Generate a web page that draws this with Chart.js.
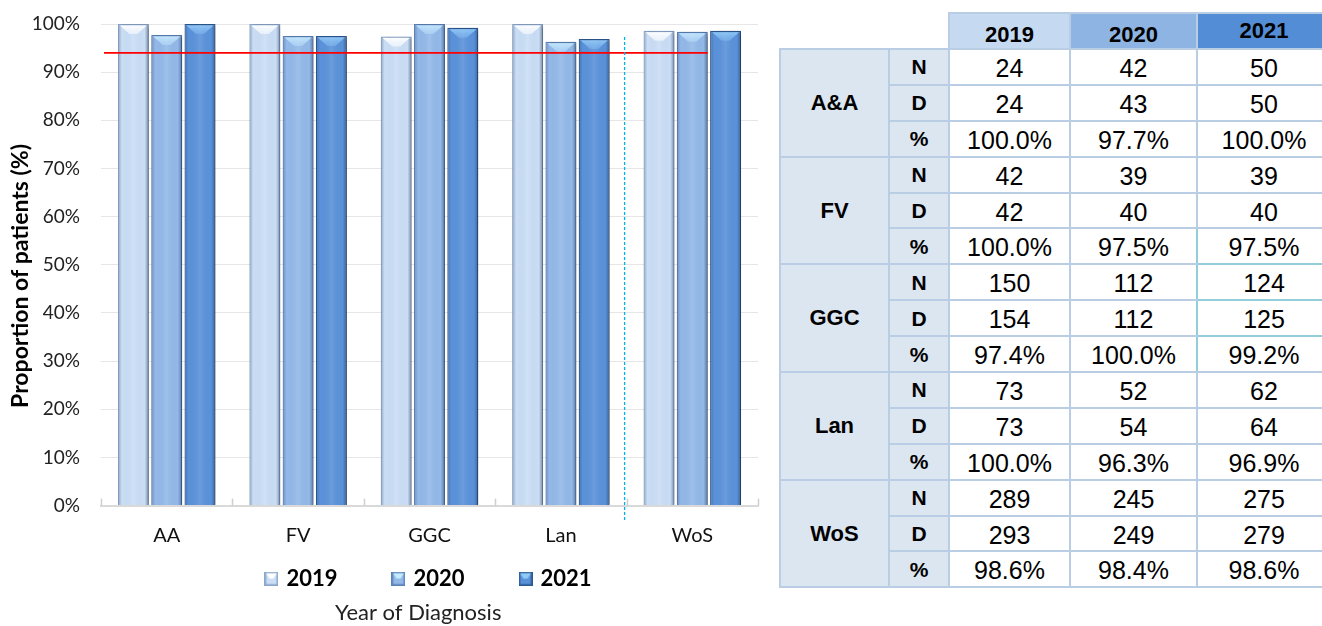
<!DOCTYPE html>
<html>
<head>
<meta charset="utf-8">
<title>Proportion of patients by board and year of diagnosis</title>
<script src="https://cdn.jsdelivr.net/npm/chart.js@4.4.1/dist/chart.umd.min.js"></script>
<style>
  html, body { margin: 0; padding: 0; background: #fff; width: 1322px; height: 626px; overflow: hidden; }
  #chartBox { position: absolute; left: 0; top: 0; width: 770px; height: 626px; }
  #tbl {
    position: absolute; left: 779px; top: 12px; width: 551px;
    border-collapse: collapse; table-layout: fixed;
    font-family: "Liberation Sans", Arial, sans-serif; color: #000;
  }
  #tbl td { border: 2px solid #b9cde5; text-align: center; vertical-align: middle; padding: 0; font-size: 25px; line-height: 1; }
  #tbl tr.hdr { height: 36px; }
  #tbl tr.row { height: 35.9px; }
  #tbl td.blank { border: none; background: transparent; }
  #tbl td.y19 { background: #c5d9f1; font-weight: bold; font-size: 22px; padding-top: 7px; }
  #tbl td.y20 { background: #8db4e2; font-weight: bold; font-size: 22px; padding-top: 7px; }
  #tbl td.y21 { background: #538dd5; font-weight: bold; font-size: 22px; }
  #tbl td.board { background: #dce6f1; font-weight: bold; font-size: 22px; }
  #tbl td.lab { background: #dce6f1; font-weight: bold; font-size: 21px; }
  #tbl td.num { padding-top: 3px; }
  #tbl td.cyR { border-right-color: #92cddc; }
  #tbl td.cyB { border-bottom-color: #92cddc; }
</style>
</head>
<body>
<div id="chartBox"><canvas id="chart" width="770" height="626"></canvas></div>
<table id="tbl"></table>

<script>
// ---- data ----
const categories = ['AA', 'FV', 'GGC', 'Lan', 'WoS'];
const boardNames = ['A&A', 'FV', 'GGC', 'Lan', 'WoS'];
const years = ['2019', '2020', '2021'];

const numer2019 = [24, 42, 150, 73, 289];
const numer2020 = [42, 39, 112, 52, 245];
const numer2021 = [50, 39, 124, 62, 275];

const denom2019 = [24, 42, 154, 73, 293];
const denom2020 = [43, 40, 112, 54, 249];
const denom2021 = [50, 40, 125, 64, 279];

const pct2019 = [100.0, 100.0, 97.4, 100.0, 98.6];
const pct2020 = [97.7, 97.5, 100.0, 96.3, 98.4];
const pct2021 = [100.0, 97.5, 99.2, 96.9, 98.6];

const yTickValues = [0, 10, 20, 30, 40, 50, 60, 70, 80, 90, 100];
const targetLevel = 94;      // red target line
const dividerTop = 97.3;     // top of the dashed separator before the WoS group

// ---- table ----
(function buildTable() {
  const tbl = document.getElementById('tbl');
  const colW = [109, 60, 121, 127, 134];
  const cg = document.createElement('colgroup');
  colW.forEach(w => { const c = document.createElement('col'); c.style.width = w + 'px'; cg.appendChild(c); });
  tbl.appendChild(cg);

  const mk = (tr, text, cls) => {
    const td = document.createElement('td');
    td.textContent = text;
    if (cls) td.className = cls;
    tr.appendChild(td);
    return td;
  };

  const hdr = document.createElement('tr');
  hdr.className = 'hdr';
  mk(hdr, '', 'blank'); mk(hdr, '', 'blank');
  mk(hdr, years[0], 'y19'); mk(hdr, years[1], 'y20'); mk(hdr, years[2], 'y21');
  tbl.appendChild(hdr);

  const numer = [numer2019, numer2020, numer2021];
  const denom = [denom2019, denom2020, denom2021];
  const pct = [pct2019, pct2020, pct2021];

  boardNames.forEach((b, i) => {
    const rows = [
      ['N', numer.map(a => String(a[i]))],
      ['D', denom.map(a => String(a[i]))],
      ['%', pct.map(a => a[i].toFixed(1) + '%')]
    ];
    rows.forEach((r, k) => {
      const tr = document.createElement('tr');
      tr.className = 'row';
      if (k === 0) { const td = mk(tr, b, 'board'); td.rowSpan = 3; }
      mk(tr, r[0], 'lab');
      r[1].forEach((v, j) => {
        const td = mk(tr, v, 'num');
        // GGC cells of the last column carry a teal outline
        if (j === 1 && (i === 2 || (i === 1 && k === 2))) td.classList.add('cyR');
        if (j === 2 && ((i === 1 && k === 2) || (i === 2 && k < 2))) td.classList.add('cyB');
      });
      tbl.appendChild(tr);
    });
  });
})();

// ---- chart ----
const fills   = ['#cadef6', '#93b9e9', '#5a92da'];
const borders = ['#8aa6cc', '#5b83bb', '#2c5a94'];
const chevron = [['rgba(255,255,255,0.98)', 'rgba(255,255,255,0.55)'],
                 ['rgba(200,236,255,0.95)', 'rgba(190,226,252,0.45)'],
                 ['rgba(150,205,248,0.95)', 'rgba(140,195,245,0.40)']];

function makeSwatch(i) {
  const s = 14;
  const c = document.createElement('canvas');
  c.width = s; c.height = s;
  const g = c.getContext('2d');
  g.fillStyle = fills[i];
  g.fillRect(0, 0, s, s);
  const lg = g.createLinearGradient(0, 0, s, 0);
  lg.addColorStop(0, 'rgba(20,40,80,0.25)');
  lg.addColorStop(0.2, 'rgba(20,40,80,0)');
  lg.addColorStop(0.8, 'rgba(20,40,80,0)');
  lg.addColorStop(1, 'rgba(20,40,80,0.4)');
  g.fillStyle = lg; g.fillRect(0, 0, s, s);
  g.beginPath();
  g.moveTo(1, 1); g.lineTo(s - 1, 1); g.lineTo(s / 2 + 2, 7); g.lineTo(s / 2 - 2, 7); g.closePath();
  g.fillStyle = chevron[i][0]; g.fill();
  g.strokeStyle = borders[i]; g.lineWidth = 1.5;
  g.strokeRect(0.75, 0.75, s - 1.5, s - 1.5);
  return c;
}
const swatches = [0, 1, 2].map(makeSwatch);

// bevelled look for each bar, plus a soft drop shadow
const bevelPlugin = {
  id: 'bevel',
  beforeDatasetDraw(chart) {
    const ctx = chart.ctx;
    ctx.save();
    ctx.shadowColor = 'rgba(0,0,0,0.38)';
    ctx.shadowBlur = 4;
    ctx.shadowOffsetX = 2;
    ctx.shadowOffsetY = 1;
  },
  afterDatasetDraw(chart, args) {
    const ctx = chart.ctx;
    ctx.restore();
    const di = args.index;
    args.meta.data.forEach(bar => {
      const p = bar.getProps(['x', 'y', 'base', 'width'], true);
      const l = p.x - p.width / 2, r = p.x + p.width / 2, h = p.base - p.y;
      ctx.save();
      const g = ctx.createLinearGradient(l, 0, r, 0);
      g.addColorStop(0, 'rgba(20,40,80,0.30)');
      g.addColorStop(0.13, 'rgba(20,40,80,0)');
      g.addColorStop(0.5, 'rgba(255,255,255,0.10)');
      g.addColorStop(0.86, 'rgba(20,40,80,0)');
      g.addColorStop(1, 'rgba(20,40,80,0.45)');
      ctx.fillStyle = g;
      ctx.fillRect(l + 1, p.y + 1, p.width - 2, h - 1);
      const bh = Math.min(10, h / 2);
      ctx.beginPath();
      ctx.moveTo(l + 2, p.y + 1.5);
      ctx.lineTo(r - 2, p.y + 1.5);
      ctx.lineTo(p.x + p.width * 0.13, p.y + bh);
      ctx.lineTo(p.x - p.width * 0.13, p.y + bh);
      ctx.closePath();
      const tg = ctx.createLinearGradient(0, p.y, 0, p.y + bh);
      tg.addColorStop(0, chevron[di][0]);
      tg.addColorStop(1, chevron[di][1]);
      ctx.fillStyle = tg;
      ctx.fill();
      ctx.restore();
    });
  }
};

// target line, separator and axis tick marks
const markersPlugin = {
  id: 'markers',
  afterDatasetsDraw(chart) {
    const ctx = chart.ctx;
    const xs = chart.scales.x, ys = chart.scales.y;
    const area = chart.chartArea;

    // category boundary ticks pointing up from the axis
    ctx.save();
    ctx.strokeStyle = '#cfcfcf';
    ctx.lineWidth = 1.5;
    const n = categories.length;
    for (let i = 0; i <= n; i++) {
      const bx = Math.round(xs.left + i * (xs.right - xs.left) / n) + 0.5;
      ctx.beginPath();
      ctx.moveTo(bx, area.bottom);
      ctx.lineTo(bx, area.bottom - 7);
      ctx.stroke();
    }
    ctx.restore();

    // target line, ends at the right edge of the last 2020 bar
    const lastBar = chart.getDatasetMeta(1).data[n - 1];
    const endX = lastBar.x + lastBar.width / 2;
    const ty = ys.getPixelForValue(targetLevel);
    ctx.save();
    ctx.strokeStyle = '#ff0000';
    ctx.lineWidth = 1.8;
    ctx.beginPath();
    ctx.moveTo(area.left + 3, ty);
    ctx.lineTo(endX, ty);
    ctx.stroke();
    ctx.restore();

    // dashed separator between the boards and the WoS total
    const sx = (xs.getPixelForValue(n - 2) + xs.getPixelForValue(n - 1)) / 2 - 2;
    ctx.save();
    ctx.strokeStyle = '#00b0f0';
    ctx.lineWidth = 1.3;
    ctx.setLineDash([3, 2]);
    ctx.beginPath();
    ctx.moveTo(sx, ys.getPixelForValue(dividerTop));
    ctx.lineTo(sx, area.bottom + 15);
    ctx.stroke();
    ctx.restore();
  }
};

const datasets = [pct2019, pct2020, pct2021].map((vals, i) => ({
  label: years[i],
  data: vals,
  backgroundColor: fills[i],
  borderColor: borders[i],
  borderWidth: 1.2,
  categoryPercentage: 0.76,
  barPercentage: 0.93
}));

new Chart(document.getElementById('chart'), {
  type: 'bar',
  data: { labels: categories, datasets },
  plugins: [bevelPlugin, markersPlugin],
  options: {
    responsive: false,
    animation: false,
    layout: { padding: { top: 24, right: 12, bottom: 0, left: 0 } },
    scales: {
      x: {
        grid: { display: true, drawOnChartArea: false, drawTicks: false },
        border: { display: true, color: '#d9d9d9', width: 2 },
        // labels hang below the axis line without reserving box height,
        // leaving the space under them to the legend
        ticks: { mirror: true, padding: -42, color: '#111', font: { family: 'Lato', size: 20 } },
        afterFit(scale) { scale.height = 5; }
      },
      y: {
        min: 0, max: 100,
        afterBuildTicks(scale) { scale.ticks = yTickValues.map(v => ({ value: v })); },
        // invisible tick marks keep the labels clear of the plot
        grid: { color: '#e6e6e6', lineWidth: 1, drawTicks: true, tickLength: 18, tickColor: 'rgba(0,0,0,0)' },
        border: { display: false },
        ticks: {
          padding: 3, color: '#222',
          font: { family: 'Lato', size: 19 },
          callback: v => v + '%'
        },
        title: {
          display: true, text: 'Proportion of patients (%)    ',
          color: '#000', font: { family: 'Lato', size: 23, weight: 'bold' },
          padding: { top: 7, bottom: 0 }
        },
        afterFit(scale) { scale.width = 101; }
      }
    },
    plugins: {
      tooltip: { enabled: false },
      legend: {
        position: 'bottom',
        fullSize: false,
        labels: {
          usePointStyle: true,
          boxWidth: 8,
          padding: 57,
          color: '#000',
          font: { family: 'Lato', size: 22, weight: 'bold' },
          generateLabels(chart) {
            const items = Chart.defaults.plugins.legend.labels.generateLabels(chart);
            items.forEach((it, i) => { it.pointStyle = swatches[i]; });
            return items;
          }
        }
      },
      title: {
        display: true,
        position: 'bottom',
        fullSize: false,
        text: 'Year of Diagnosis    ',
        color: '#222',
        font: { family: 'Lato', size: 22, weight: 'normal' },
        padding: { top: 0, bottom: 0 }
      }
    }
  }
});
</script>
</body>
</html>
